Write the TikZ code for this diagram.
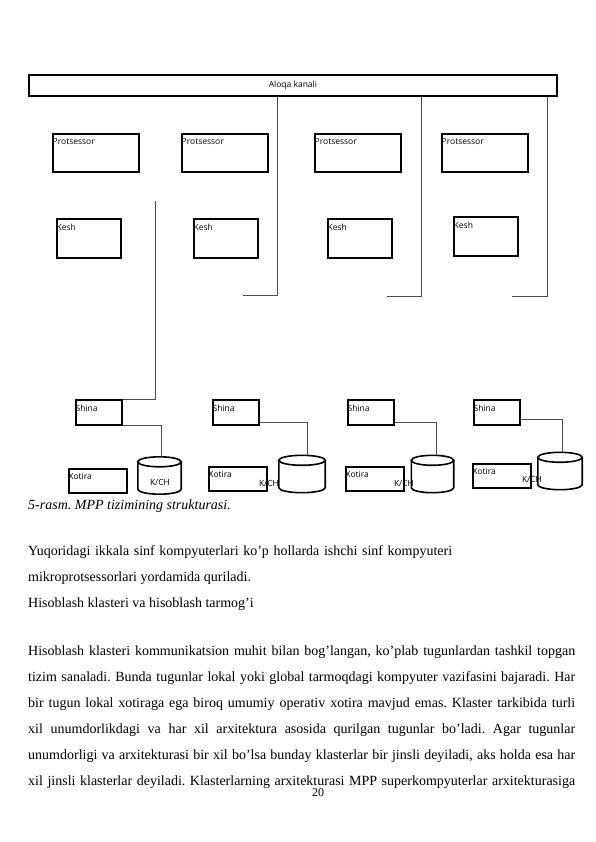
\documentclass[tikz,border=0pt]{standalone}
\usepackage{fontspec}
\setmainfont{Liberation Serif}
\newfontfamily\diagfont{Open Sans}
\usetikzlibrary{positioning}
\frenchspacing

\begin{document}
\begin{tikzpicture}[
    x=1pt, y=-1pt,
    box/.style={draw, line width=1.6pt, anchor=north west, inner sep=0pt},
    procbox/.style={box, minimum width=86pt, minimum height=38pt},
    keshbox/.style={box, minimum width=64pt, minimum height=39pt},
    shinabox/.style={box, minimum width=46pt, minimum height=25pt},
    xotirabox/.style={box, minimum width=58pt, minimum height=24pt},
    lbl/.style={font=\diagfont\fontsize{8.5}{10}\selectfont, inner sep=0.5pt, anchor=north west, yshift=-5pt},
    disk/.style={minimum width=#1, minimum height=37pt, inner sep=0pt},
    cyl/.style={line width=1.6pt},
    kch/.style={font=\diagfont\fontsize{8.5}{10}\selectfont, inner sep=0pt},
    wire/.style={draw=black!70, line width=1pt},
    txt/.style={anchor=base west, inner sep=0pt, font=\fontsize{14}{16}\selectfont}
]
\useasboundingbox (0,0) rectangle (595,842);
\fill[white] (0,0) rectangle (595,842);

% Communication channel
\node[box, line width=1.8pt, minimum width=528pt, minimum height=21pt,
    font=\diagfont\fontsize{8.5}{10}\selectfont] (bar) at (28,74) {Aloqa kanali};

% Processors
\node[procbox, label={[lbl]north west:Protsessor}] (p1) at (52,133) {};
\node[procbox, label={[lbl]north west:Protsessor}] (p2) at (181,133) {};
\node[procbox, label={[lbl]north west:Protsessor}] (p3) at (314,133) {};
\node[procbox, label={[lbl]north west:Protsessor}] (p4) at (441,133) {};

% Caches
\node[keshbox, label={[lbl]north west:Kesh}] (k1) at (56,218) {};
\node[keshbox, label={[lbl]north west:Kesh}] (k2) at (193,218) {};
\node[keshbox, label={[lbl]north west:Kesh}] (k3) at (327,218) {};
\node[keshbox, label={[lbl]north west:Kesh}] (k4) at (453,216) {};

% Buses
\node[shinabox, label={[lbl]north west:Shina}] (s1) at (75,399) {};
\node[shinabox, label={[lbl]north west:Shina}] (s2) at (212,399) {};
\node[shinabox, label={[lbl]north west:Shina}] (s3) at (347,399) {};
\node[shinabox, label={[lbl]north west:Shina}] (s4) at (473,399) {};

% Memories
\node[xotirabox, label={[lbl]north west:Xotira}] (x1) at (68,468) {};
\node[xotirabox, label={[lbl]north west:Xotira}] (x2) at (208,466) {};
\node[xotirabox, label={[lbl]north west:Xotira}] (x3) at (345,466) {};
\node[xotirabox, label={[lbl]north west:Xotira}] (x4) at (472,463) {};

% Disks
\node[disk=43pt] (d1) at (159.5,475.5) {};
\node[disk=46pt] (d2) at (302,474) {};
\node[disk=42pt] (d3) at (432.5,474) {};
\node[disk=44pt] (d4) at (560,471) {};
\foreach \d in {d1,d2,d3,d4} {
    \path (\d.west); \pgfgetlastxy{\xa}{\ya}
    \path (\d.east); \pgfgetlastxy{\xb}{\yb}
    \pgfmathsetlengthmacro{\rx}{(\xb-\xa)/2}
    \draw[cyl] ([yshift=-5pt]\d.north) ellipse [x radius=\rx, y radius=5pt];
    \draw[cyl] ([yshift=-5pt]\d.north west) -- ([yshift=5pt]\d.south west)
        arc[start angle=180, end angle=360, x radius=\rx, y radius=5pt]
        -- ([yshift=-5pt]\d.north east);
}
\node[kch] (kc1) at (160,482) {K/CH};
\node[kch] (kc2) at (269,483) {K/CH};
\node[kch] (kc3) at (404,483) {K/CH};
\node[kch] (kc4) at (532,479) {K/CH};

% Lines
\coordinate (e1) at (155,201);
\coordinate (e2) at (277,295);
\coordinate (e3) at (421,296);
\coordinate (e4) at (547,296);
\draw[wire] (e1) |- (s1.north east);
\draw[wire] (bar.south -| e2) -- (e2) -- ++(-34,0);
\draw[wire] (bar.south -| e3) -- (e3) -- ++(-34,0);
\draw[wire] (bar.south -| e4) -- (e4) -- ++(-35,0);
\draw[wire] (s1.south east) -| ([xshift=2pt]d1.north);
\draw[wire] ([yshift=3pt]s2.south east) -| ([xshift=5pt]d2.north);
\draw[wire] ([yshift=3pt]s3.south east) -| ([xshift=4pt]d3.north);
\draw[wire] ([yshift=6pt]s4.south east) -| ([xshift=2pt]d4.north);

% Text below
\node[txt] (cap) at (28,509) {\itshape 5-rasm. MPP tizimining strukturasi.};
\node[txt] (t1) at (28,555) {\makebox[424pt][s]{Yuqoridagi ikkala sinf kompyuterlari ko’p hollarda ishchi sinf kompyuteri}};
\node[txt] (t2) at (28,581) {mikroprotsessorlari yordamida quriladi.};
\node[txt] (t3) at (28,607) {Hisoblash klasteri va hisoblash tarmog’i};
\node[txt] (l1) at (28,655) {\makebox[547pt][s]{Hisoblash klasteri kommunikatsion muhit bilan bog’langan, ko’plab tugunlardan tashkil topgan}};
\node[txt] (l2) at (28,681) {\makebox[547pt][s]{tizim sanaladi. Bunda tugunlar lokal yoki global tarmoqdagi kompyuter vazifasini bajaradi. Har}};
\node[txt] (l3) at (28,707) {\makebox[547pt][s]{bir tugun lokal xotiraga ega biroq umumiy operativ xotira mavjud emas. Klaster tarkibida turli}};
\node[txt] (l4) at (28,733) {\makebox[547pt][s]{xil unumdorlikdagi va har xil arxitektura asosida qurilgan tugunlar bo’ladi. Agar tugunlar}};
\node[txt] (l5) at (28,759) {\makebox[547pt][s]{unumdorligi va arxitekturasi bir xil bo’lsa bunday klasterlar bir jinsli deyiladi, aks holda esa har}};
\node[txt] (l6) at (28,785) {\makebox[547pt][s]{xil jinsli klasterlar deyiladi. Klasterlarning arxitekturasi MPP superkompyuterlar arxitekturasiga}};
\node[txt, anchor=base, font=\fontsize{12}{14}\selectfont] (pg) at (318,796) {20};
\end{tikzpicture}
\end{document}
